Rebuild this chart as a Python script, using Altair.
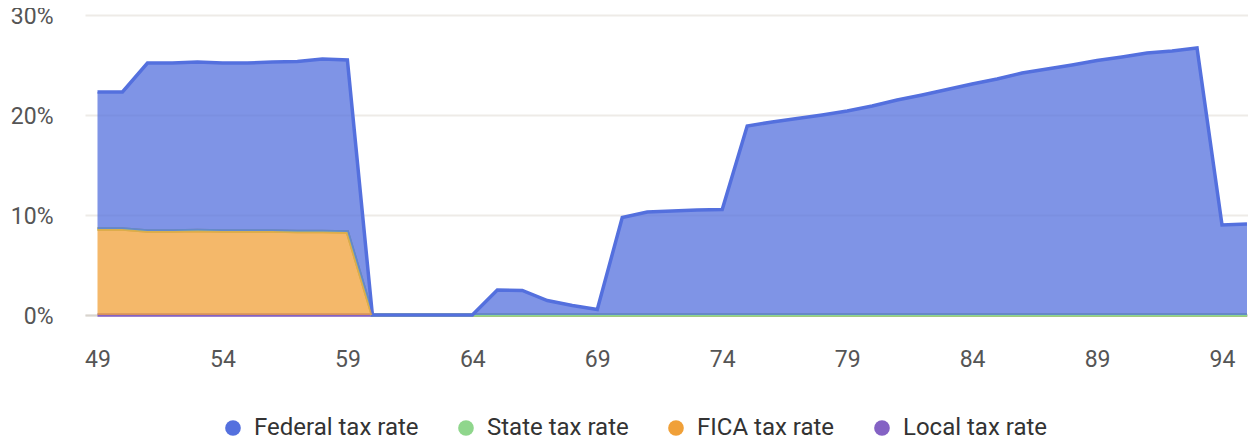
import altair as alt
import pandas as pd

ages = list(range(49, 96))

federal = [13.7, 13.7, 16.8, 16.8, 16.85, 16.8, 16.8, 16.9, 17.0, 17.25, 17.2,
           0, 0, 0, 0, 0,
           2.5, 2.45, 1.45, 0.95, 0.55,
           9.75, 10.3, 10.4, 10.5, 10.55,
           18.9, 19.3, 19.65, 20.0, 20.4, 20.9, 21.5, 22.0, 22.55, 23.1,
           23.6, 24.2, 24.6, 25.0, 25.45, 25.8, 26.2, 26.4, 26.7, 9.0, 9.1]
state = [0.0] * 47
fica = [8.6, 8.6, 8.4, 8.4, 8.45, 8.4, 8.4, 8.4, 8.35, 8.35, 8.3] + [0.0] * 36
local = [0.0] * 47

series_names = ["Federal tax rate", "State tax rate", "FICA tax rate", "Local tax rate"]
series_colors = ["#5470DE", "#8FD68C", "#F0A038", "#8462C4"]
stack_rank = {"Local tax rate": 0, "FICA tax rate": 1, "State tax rate": 2, "Federal tax rate": 3}

rows = []
for name, vals in [("Local tax rate", local), ("FICA tax rate", fica),
                   ("State tax rate", state), ("Federal tax rate", federal)]:
    for a, v in zip(ages, vals):
        rows.append({"age": a, "series": name, "rate": v / 100.0, "rank": stack_rank[name]})
df = pd.DataFrame(rows)

x_enc = alt.X("age:Q",
              scale=alt.Scale(domain=[48.5, 95.04], nice=False, zero=False),
              axis=alt.Axis(values=list(range(49, 95, 5)), format="d", title=None,
                            grid=False, ticks=False, domain=True, domainColor="#d8d4ce",
                            domainWidth=2, labelFontSize=23, labelColor="#555555",
                            labelFont="Roboto", labelPadding=33))
y_scale = alt.Scale(domain=[0, 0.3], nice=False)
color_scale = alt.Scale(domain=series_names, range=series_colors)

legend = alt.Legend(title=None, orient="none", direction="horizontal",
                    legendX=136, legendY=401, symbolType="circle",
                    symbolSize=246, symbolOpacity=1, symbolStrokeWidth=0,
                    labelFontSize=24, labelFont="Roboto", labelLimit=400,
                    labelColor="#333333", labelOffset=9,
                    columnPadding=35, padding=0)
color_enc = alt.Color("series:N", scale=color_scale, legend=legend)

area = alt.Chart().mark_area(opacity=0.75, strokeWidth=0).encode(
    x=x_enc,
    y=alt.Y("top:Q", scale=y_scale,
            axis=alt.Axis(values=[0, 0.1, 0.2, 0.3], format=".0%", title=None,
                          grid=True, gridColor="#eeebe7", gridWidth=2, ticks=False,
                          domain=False, labelFontSize=23, labelColor="#555555",
                          labelFont="Roboto", labelPadding=32, labelOffset=1)),
    y2="bot:Q",
    color=color_enc,
    detail="series:N",
)

lines = []
for name in ["Local tax rate", "FICA tax rate", "State tax rate", "Federal tax rate"]:
    lines.append(
        alt.Chart().mark_line(strokeWidth=3.5).encode(
            x=alt.X("age:Q"),
            y=alt.Y("top:Q", scale=y_scale),
            color=color_enc,
        ).transform_filter(alt.datum.series == name)
    )

chart = alt.layer(*lines, area, data=df).transform_stack(
    stack="rate", groupby=["age"], as_=["bot", "top"],
    sort=[alt.SortField("rank", order="ascending")]
).properties(
    width=1163, height=300,
    autosize=alt.AutoSizeParams(type="none"),
    padding={"left": 77, "top": 7, "right": 0, "bottom": 126},
).configure_view(stroke=None)

chart.save("out.html", embed_options={"renderer": "svg", "actions": False})
